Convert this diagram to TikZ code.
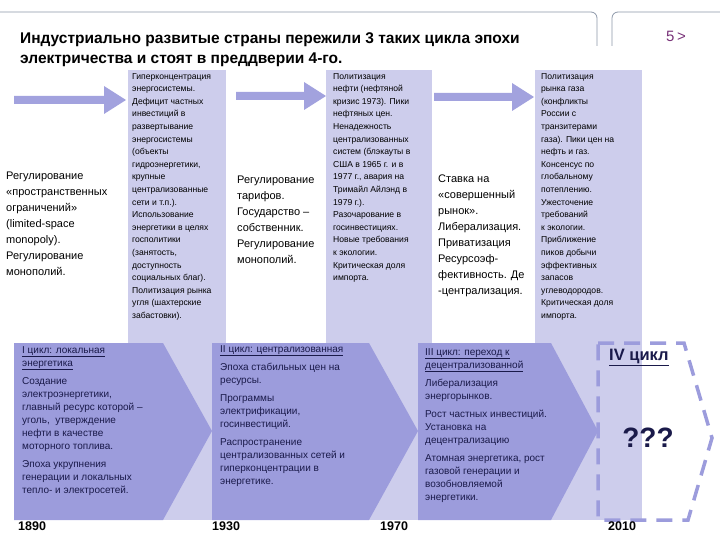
\documentclass[tikz,border=0pt]{standalone}
\usepackage{fontspec}
\setmainfont{Liberation Sans}
\begin{document}
\begin{tikzpicture}[x=1pt,y=-1pt,
 light/.style={fill=lightc,draw=none},
 chev/.style={fill=chevc,draw=none},
 arr/.style={fill=arrc,draw=none},
 small/.style={anchor=north west,align=left,inner sep=0pt,font=\fontsize{8.6}{12.6}\selectfont,text=black},
 mid/.style={anchor=north west,align=left,inner sep=0pt,font=\fontsize{11}{16}\selectfont,text=black},
 ctext/.style={anchor=north west,align=left,inner sep=0pt,font=\fontsize{10}{13}\selectfont,text=navy},
 year/.style={anchor=north west,inner sep=0pt,font=\bfseries\fontsize{12.5}{13}\selectfont}]
\definecolor{lightc}{HTML}{CDCDEC}
\definecolor{chevc}{HTML}{9C9CDC}
\definecolor{arrc}{HTML}{A2A2DE}
\definecolor{navy}{HTML}{1A1A4A}
\definecolor{framec}{HTML}{8C97A8}
\useasboundingbox (0,0) rectangle (720,540);
% header frames
\draw[framec,line width=0.8pt] (0,12) -- (591,12) to[out=0,in=90] (597,18) -- (597,46);
\draw[framec,line width=0.8pt] (720,12) -- (618,12) to[out=180,in=90] (612,18) -- (612,46);
\node[anchor=west,inner sep=0pt,font=\bfseries\fontsize{15.5}{20}\selectfont,align=left] (title) at (20,50) {Индустриально развитые страны пережили 3 таких цикла эпохи\\электричества и стоят в преддверии 4-го.};
\node[inner sep=0pt,font=\fontsize{15}{16}\selectfont,text={rgb,255:red,120;green,50;blue,120}] (pg) at (676,36) {5\,>};
% light columns
\fill[light] (128,70) rectangle (226,520);
\fill[light] (326,70) rectangle (432,520);
\fill[light] (535,70) rectangle (642,520);
% arrows
\fill[arr] (14,96) -- (104,96) -- (104,86) -- (126,100) -- (104,114) -- (104,104) -- (14,104) -- cycle;
\fill[arr] (236,92) -- (304,92) -- (304,82) -- (326,96) -- (304,110) -- (304,100) -- (236,100) -- cycle;
\fill[arr] (434,93) -- (512,93) -- (512,83) -- (534,97) -- (512,111) -- (512,101) -- (434,101) -- cycle;
% chevrons
\fill[chev] (14,343) -- (163,343) -- (212,431) -- (163,520) -- (14,520) -- cycle;
\fill[chev] (212,343) -- (369,343) -- (418,431) -- (369,520) -- (212,520) -- (212,431) -- cycle;
\fill[chev] (418,343) -- (551,343) -- (598,431) -- (551,520) -- (418,520) -- (418,431) -- cycle;
% dashed
\draw[chevc,line width=3.5pt,dash pattern=on 16pt off 10pt] (598,343) -- (684,343) -- (712,438) -- (688,520) -- (598,520) -- cycle;
% top texts
\node[mid] (t0) at (6,172) {Регулирование\\«пространственных\\ограничений»\\(limited-space\\monopoly).\\Регулирование\\монополий.};
\node[small] (c1) at (132,73) {Гиперконцентрация\\энергосистемы.\\Дефицит частных\\инвестиций в\\развертывание\\энергосистемы\\(объекты\\гидроэнергетики,\\крупные\\централизованные\\сети и т.п.).\\Использование\\энергетики в целях\\госполитики\\(занятость,\\доступность\\социальных благ).\\Политизация рынка\\угля (шахтерские\\забастовки).};
\node[mid] (t1) at (237,176) {Регулирование\\тарифов.\\Государство –\\собственник.\\Регулирование\\монополий.};
\node[small] (c2) at (333,73) {Политизация\\нефти (нефтяной\\кризис 1973). Пики\\нефтяных цен.\\Ненадежность\\централизованных\\систем (блэкауты в\\США в 1965 г. и в\\1977 г., авария на\\Тримайл Айлэнд в\\1979 г.).\\Разочарование в\\госинвестициях.\\Новые требования\\к экологии.\\Критическая доля\\импорта.};
\node[mid] (t2) at (438,175) {Ставка на\\«совершенный\\рынок».\\Либерализация.\\Приватизация\\Ресурсоэф-\\фективность. Де\\-централизация.};
\node[small] (c3) at (541,73) {Политизация\\рынка газа\\(конфликты\\России с\\транзитерами\\газа). Пики цен на\\нефть и газ.\\Консенсус по\\глобальному\\потеплению.\\Ужесточение\\требований\\к экологии.\\Приближение\\пиков добычи\\эффективных\\запасов\\углеводородов.\\Критическая доля\\импорта.};
% chevron texts
\node[ctext] (h1) at (22,346) {\underline{I цикл: локальная}\\\underline{энергетика}\\[5pt]Создание\\электроэнергетики,\\главный ресурс которой –\\уголь,\ \ утверждение\\нефти в качестве\\моторного топлива.\\[5pt]Эпоха укрупнения\\генерации и локальных\\тепло- и электросетей.};
\node[ctext] (h2) at (220,345) {\underline{II цикл: централизованная}\\[5pt]Эпоха стабильных цен на\\ресурсы.\\[5pt]Программы\\электрификации,\\госинвестиций.\\[5pt]Распространение\\централизованных сетей и\\гиперконцентрации в\\энергетике.};
\node[ctext] (h3) at (425,348) {\underline{III цикл: переход к}\\\underline{децентрализованной}\\[5pt]Либерализация\\энергорынков.\\[5pt]Рост частных инвестиций.\\Установка на\\децентрализацию\\[5pt]Атомная энергетика, рост\\газовой генерации и\\возобновляемой\\энергетики.};
\node[anchor=north west,inner sep=0pt,font=\bfseries\fontsize{16.5}{18}\selectfont,text=navy] (h4) at (609,349) {\underline{IV цикл}};
\node[inner sep=0pt,font=\bfseries\fontsize{28}{30}\selectfont,text=navy] (q) at (648,438) {???};
% years
\node[year] (y1) at (18,522) {1890};
\node[year] (y2) at (212,522) {1930};
\node[year] (y3) at (380,522) {1970};
\node[year] (y4) at (608,522) {2010};
\end{tikzpicture}
\end{document}
